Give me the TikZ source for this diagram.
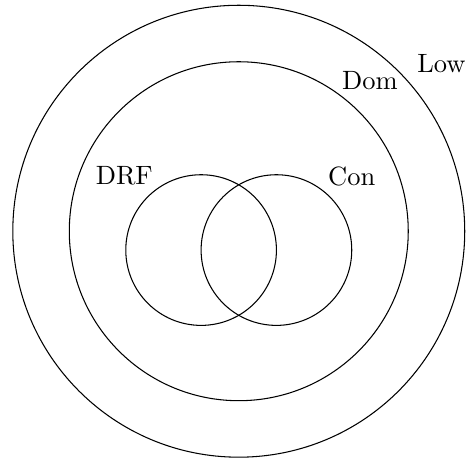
\documentclass[tikz,border=0pt]{standalone}
\begin{document}
\begin{tikzpicture}[ring/.style={draw,circle,line width=0.4pt,inner sep=0pt}, lab/.style={inner sep=0pt}]
\useasboundingbox (-3.17,-3.09) rectangle (3.03,3.07);
\node[ring,minimum size=6cm] (low) at (0,0) {};
\node[ring,minimum size=4.5cm] (dom) at (0,0) {};
\node[ring,minimum size=2cm] (drf) at (-0.5,-0.25) {};
\node[ring,minimum size=2cm] (con) at (0.5,-0.25) {};
\node[lab] (lowlab) at (2.69,2.22) {Low};
\node[lab] (domlab) at (1.74,2.0) {Dom};
\node[lab] (drflab) at (-1.52,0.73) {DRF};
\node[lab] (conlab) at (1.50,0.73) {Con};
\end{tikzpicture}
\end{document}
